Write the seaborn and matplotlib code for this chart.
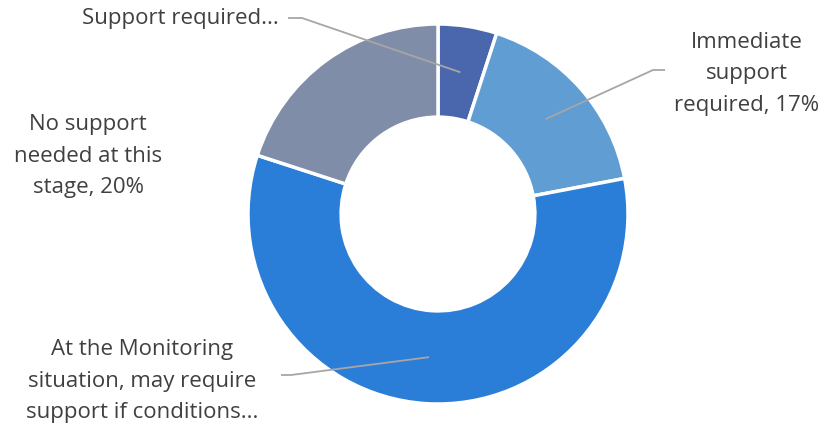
import numpy as np
import matplotlib
matplotlib.use("Agg")
import matplotlib.pyplot as plt
import seaborn as sns

# Share of respondents by support status, in clockwise order from 12 o'clock
categories = [
    "Support required...",
    "Immediate\nsupport\nrequired, 17%",
    "At the Monitoring\nsituation, may require\nsupport if conditions...",
    "No support\nneeded at this\nstage, 20%",
]
shares = [5, 17, 58, 20]
colors = ["#4A67AE", "#609DD2", "#2B7ED7", "#7F8DA8"]

sns.set_theme(style="white")
plt.rcParams["font.family"] = ["Open Sans", "DejaVu Sans"]

W, H, DPI = 824, 426, 100
fig = plt.figure(figsize=(W / DPI, H / DPI), dpi=DPI)
ax = fig.add_axes([0, 0, 1, 1])

R_PX = 190.0          # outer radius in pixels
CX, CY = 438.0, 214.0  # centre in pixels (y from top)


def px(x, y):
    """Pixel position (y from top) to data units of the pie axes."""
    return (x - CX) / R_PX, (CY - y) / R_PX


wedges, _ = ax.pie(
    shares,
    colors=colors,
    startangle=90,
    counterclock=False,
    radius=1.0,
    wedgeprops=dict(width=0.49, edgecolor="white", linewidth=2.5),
)

ax.set_xlim((0 - CX) / R_PX, (W - CX) / R_PX)
ax.set_ylim((CY - H) / R_PX, CY / R_PX)
ax.set_aspect("equal", adjustable="box")
ax.axis("off")

text_color = "#404040"
line_color = "#A6A6A6"
fs = 16

# label placement: (text x, text y, ha), leader elbow points (pixels) or None
layout = [
    ((279, 19), "right", [(288, 18), (302, 18)]),
    ((747, 74), "center", [(665, 70), (653, 70)]),
    ((142, 381), "center", [(281, 375), (291, 375)]),
    ((88, 156), "center", None),
]

for w, label, (tpos, ha, elbows) in zip(wedges, categories, layout):
    tx, ty = px(*tpos)
    ax.text(tx, ty, label, ha=ha, va="center", fontsize=fs, color=text_color,
            linespacing=1.68)
    if elbows:
        mid = np.deg2rad((w.theta1 + w.theta2) / 2)
        ax_, ay_ = 0.755 * np.cos(mid), 0.755 * np.sin(mid)
        pts = [px(*p) for p in elbows] + [(ax_, ay_)]
        xs, ys = zip(*pts)
        ax.plot(xs, ys, color=line_color, lw=1.3, solid_capstyle="butt")

fig.savefig("out.png", dpi=DPI, facecolor="white")
